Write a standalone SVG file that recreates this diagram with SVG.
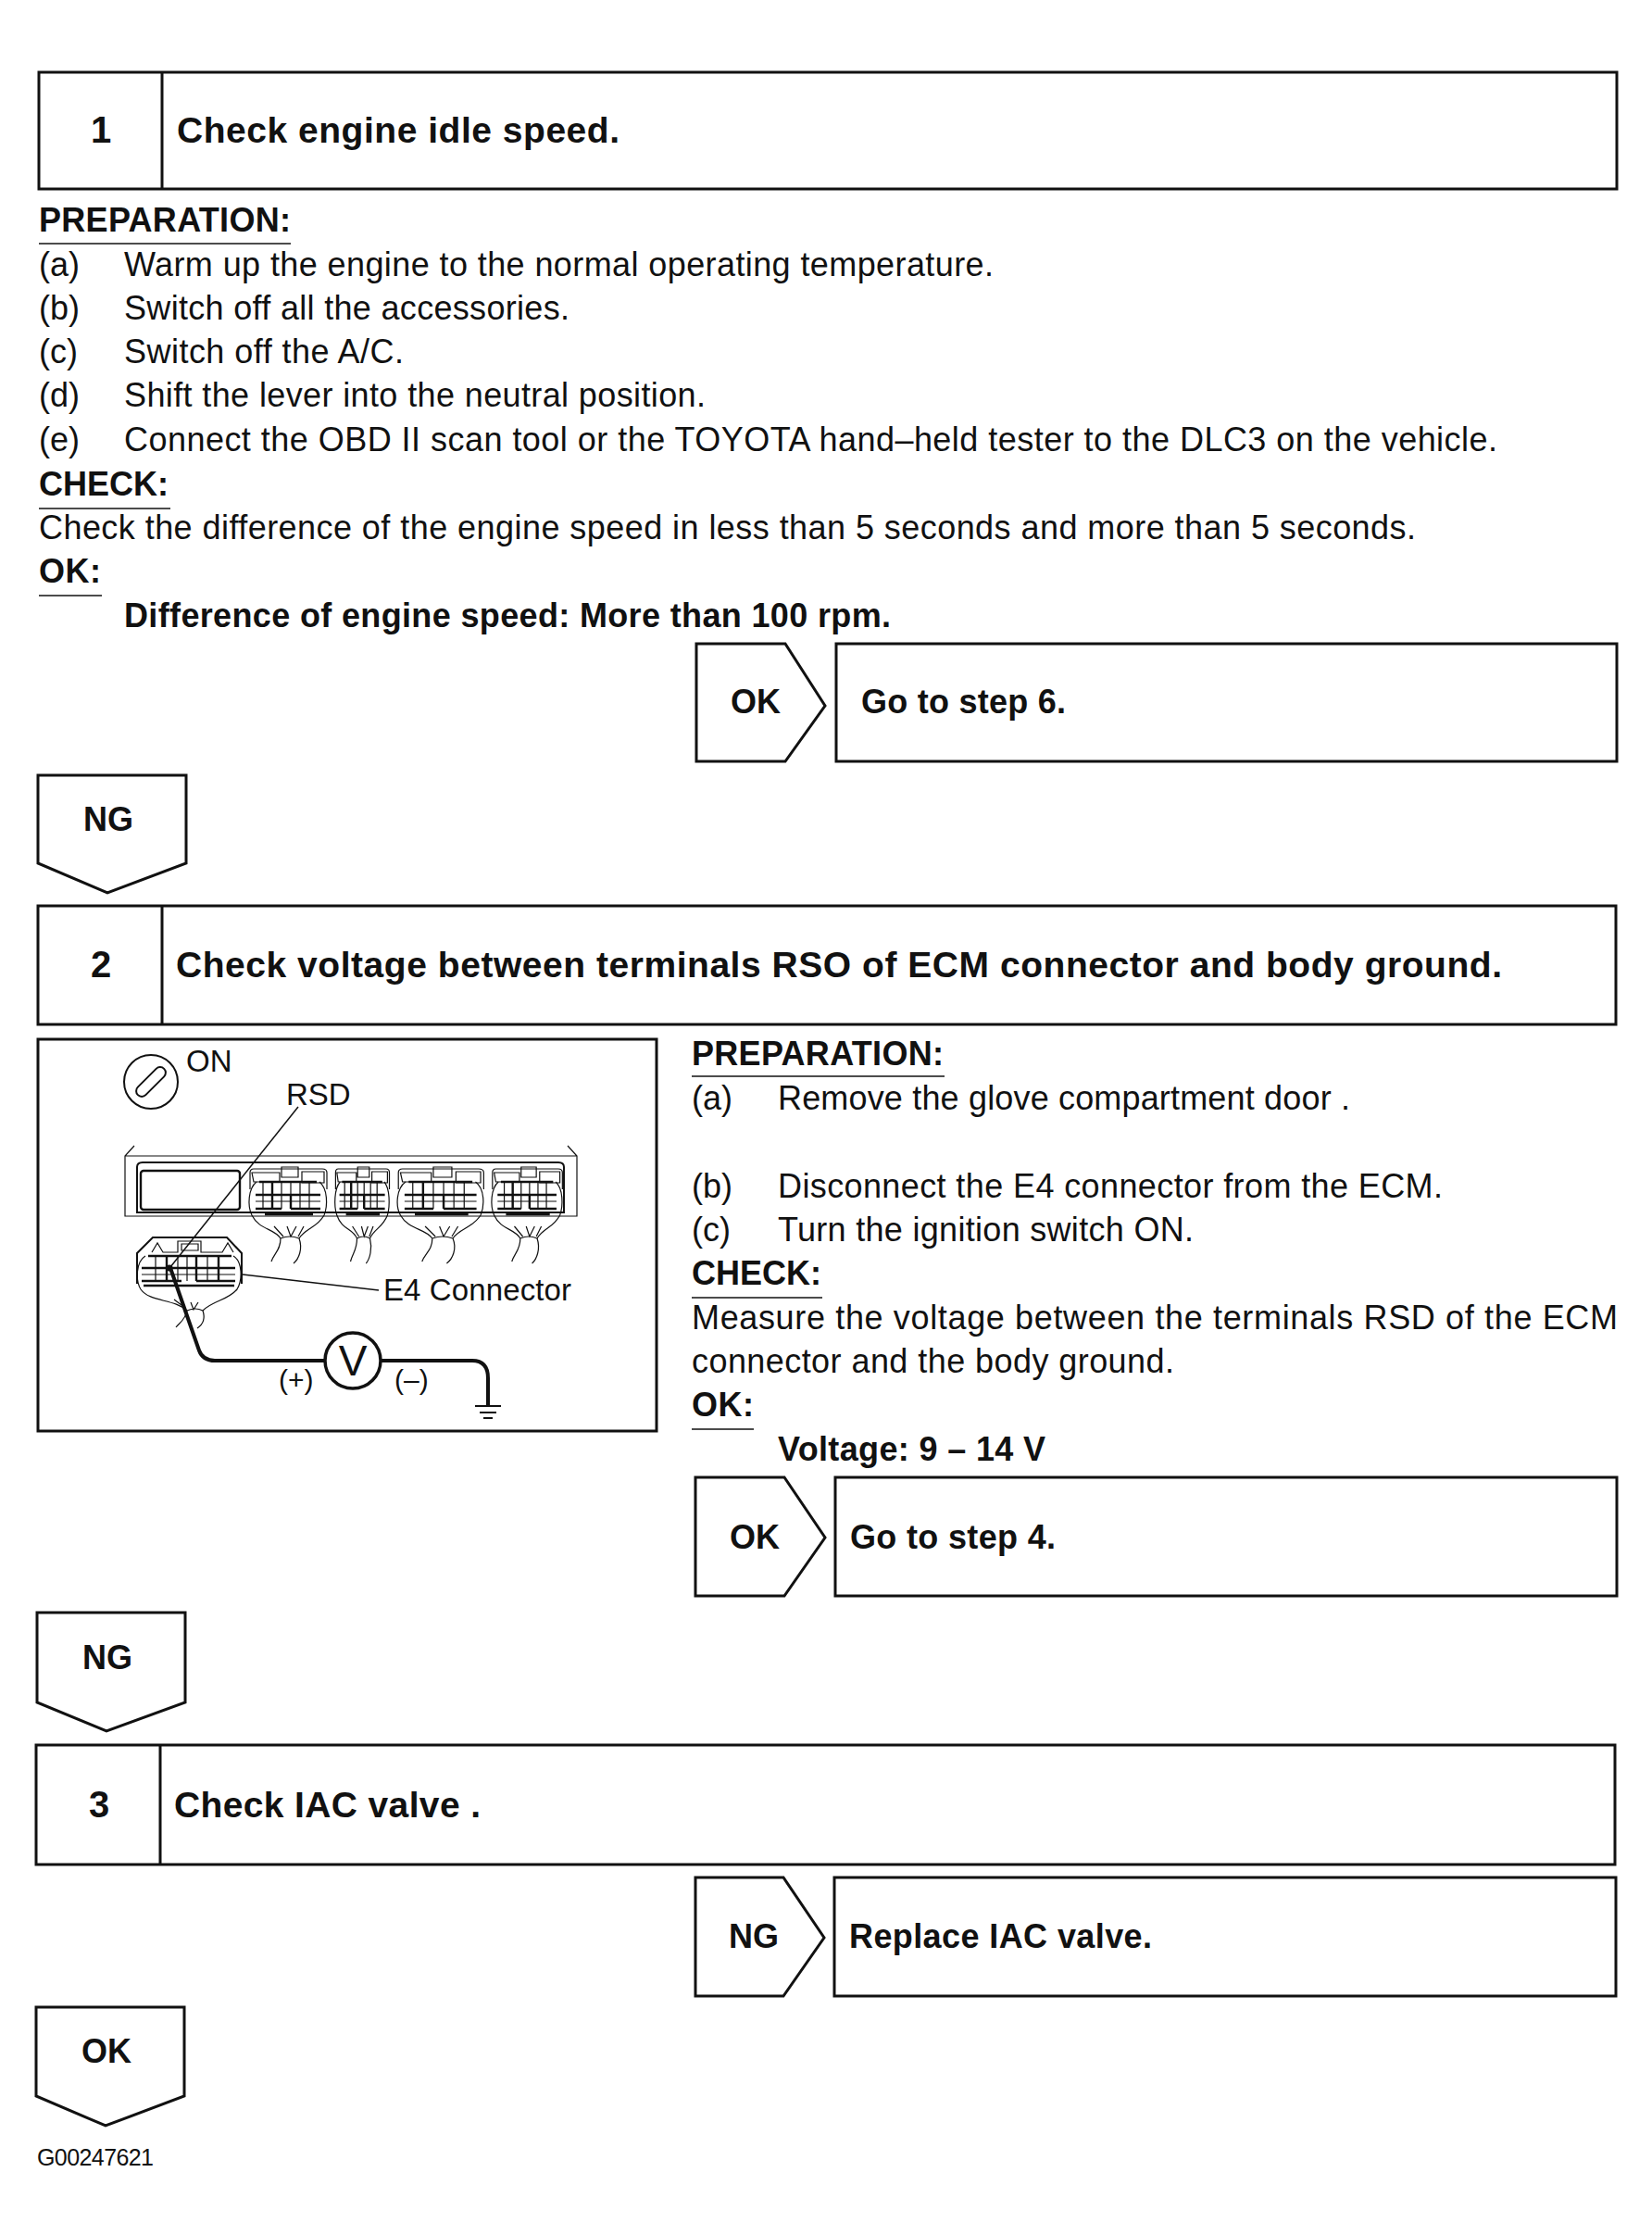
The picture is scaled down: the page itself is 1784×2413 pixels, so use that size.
<svg xmlns="http://www.w3.org/2000/svg" xmlns:xlink="http://www.w3.org/1999/xlink" width="1784" height="2413" viewBox="0 0 1784 2413">
<style>
text{font-family:"Liberation Sans",Arial,sans-serif;fill:#111}
.t{font-size:36px}
.b{font-size:36px;font-weight:bold}
.h{font-size:39px;font-weight:bold}
.m{font-size:36px;font-weight:bold;text-anchor:middle}
.n{font-size:40px;font-weight:bold;text-anchor:middle}
.i{font-size:33px}
.box{fill:#fff;stroke:#111;stroke-width:3}
.u{stroke:#111;stroke-width:1.6;fill:none}
.d{fill:none;stroke:#111;stroke-width:1.2;vector-effect:non-scaling-stroke}
.dh{fill:none;stroke:#111;stroke-width:2.4;vector-effect:non-scaling-stroke}
.lead{fill:none;stroke:#111;stroke-width:1.5}
.probe{fill:none;stroke:#111;stroke-width:4;stroke-linejoin:round}
</style>
<defs>
<g id="conn">
<path class="d" d="M2,22V4Q2,0 6,0H80Q85,0 85,4V22"/>
<path class="d" d="M4,4H34V14H6ZM36,-2H54V9H36ZM58,3H82V15H58Z"/>
<path class="d" d="M9,14C0,21 -1,40 4,50C12,66 28,64 35,75M77,14C86,21 86,40 82,50C74,64 62,64 55,75"/>
<path class="d" d="M35,75Q45,71 55,75M35,75C35,88 28,91 25,100M55,75C59,86 55,97 49,102M28,62L38,73M42,62L46,73L52,62M60,62L54,73"/>
<path class="dh" d="M12,14H74M8,28H78M8,43H36M46,43H78M18,49H70"/>
<path class="d" d="M8,35H78M16,14V43M26,14V43M36,14V43M46,14V43M56,14V43M66,14V43"/>
<path class="dh" d="M26,14V43M46,28V43"/>
</g>
</defs>

<g id="step1">
<rect class="box" x="42" y="78" width="1704" height="126"/>
<line class="box" x1="175" y1="78" x2="175" y2="204"/>
<text class="n" x="109" y="154">1</text>
<text class="h" x="191" y="154" textLength="478">Check engine idle speed.</text>
</g>
<g id="step1-notes">
<text class="b" x="42" y="250" textLength="272">PREPARATION:</text>
<line class="u" x1="42" y1="263" x2="314" y2="263"/>
<text class="t" x="42" y="298">(a)</text><text class="t" x="134" y="298" textLength="939">Warm up the engine to the normal operating temperature.</text>
<text class="t" x="42" y="345">(b)</text><text class="t" x="134" y="345" textLength="481">Switch off all the accessories.</text>
<text class="t" x="42" y="392">(c)</text><text class="t" x="134" y="392" textLength="302">Switch off the A/C.</text>
<text class="t" x="42" y="439">(d)</text><text class="t" x="134" y="439" textLength="628">Shift the lever into the neutral position.</text>
<text class="t" x="42" y="487">(e)</text><text class="t" x="134" y="487" textLength="1483">Connect the OBD II scan tool or the TOYOTA hand–held tester to the DLC3 on the vehicle.</text>
<text class="b" x="42" y="535" textLength="140">CHECK:</text>
<line class="u" x1="42" y1="549" x2="184" y2="549"/>
<text class="t" x="42" y="582" textLength="1487">Check the difference of the engine speed in less than 5 seconds and more than 5 seconds.</text>
<text class="b" x="42" y="629" textLength="67">OK:</text>
<line class="u" x1="42" y1="643" x2="110" y2="643"/>
<text class="b" x="134" y="677" textLength="828">Difference of engine speed: More than 100 rpm.</text>
</g>
<g id="ok1">
<path class="box" d="M752,695H848L891,762L848,822H752Z"/>
<text class="m" x="816" y="770">OK</text>
</g>
<g id="goto6">
<rect class="box" x="903" y="695" width="843" height="127"/>
<text class="b" x="930" y="770" textLength="221">Go to step 6.</text>
</g>
<g id="ng1">
<path class="box" d="M41,837H201V932L116,964L41,932Z"/>
<text class="m" x="117" y="897">NG</text>
</g>

<g id="step2">
<rect class="box" x="41" y="978" width="1704" height="128"/>
<line class="box" x1="175" y1="978" x2="175" y2="1106"/>
<text class="n" x="109" y="1055">2</text>
<text class="h" x="190" y="1055" textLength="1432">Check voltage between terminals RSO of ECM connector and body ground.</text>
</g>

<g id="illustration">
<rect class="box" x="41" y="1122" width="668" height="423"/>
<g id="key">
<circle class="d" cx="163" cy="1168" r="29" style="stroke-width:2"/>
<rect class="d" x="143" y="1162" width="40" height="12" rx="6" transform="rotate(-45 163 1168)" style="stroke-width:2"/>
<text class="i" x="201" y="1157">ON</text>
</g>
<g id="ecm">
<path class="d" d="M145,1237L135,1248V1313H623V1248L613,1237M135,1248H623"/>
<path class="d" d="M148,1309V1260Q148,1255 154,1255H603Q609,1255 609,1260V1309Z" style="stroke-width:2"/>
<rect class="dh" x="152" y="1264" width="107" height="42" rx="3"/>
<use xlink:href="#conn" href="#conn" transform="translate(268 1262)"/>
<use xlink:href="#conn" href="#conn" transform="translate(361 1262) scale(.7 1)"/>
<use xlink:href="#conn" href="#conn" transform="translate(428 1262) scale(1.11 1)"/>
<use xlink:href="#conn" href="#conn" transform="translate(530 1262) scale(.91 1)"/>
</g>
<g id="e4">
<path class="d" d="M148,1386V1353L165,1336H245L261,1353V1386" style="stroke-width:2"/>
<path class="d" d="M164,1352L170,1342L176,1352H192V1340H217V1352H240L246,1342L252,1352M196,1343H214V1350H196Z"/>
<path class="d" d="M157,1356C147,1362 146,1382 152,1392C162,1406 188,1402 202,1415M252,1356C262,1362 262,1382 256,1392C246,1404 230,1404 219,1415"/>
<path class="d" d="M202,1415Q211,1411 219,1415M202,1415C200,1425 194,1428 190,1433M219,1415C222,1424 219,1430 213,1434M188,1403L200,1412M206,1406L209,1414L214,1406"/>
<path class="dh" d="M160,1356H250M153,1369H254M153,1383H196M212,1383H254M155,1388H253"/>
<path class="d" d="M153,1376H254M168,1356V1383M180,1356V1383M192,1356V1383M202,1356V1383M212,1356V1383M224,1356V1383M236,1356V1383"/>
<path class="dh" d="M180,1356V1383M212,1356V1383M236,1356V1383"/>
<circle cx="183" cy="1369" r="3.5" fill="#111"/>
</g>
<text class="i" x="309" y="1193">RSD</text>
<text class="i" x="414" y="1404" textLength="203">E4 Connector</text>
<g id="meter">
<circle cx="381" cy="1469" r="30" fill="#fff" stroke="#111" stroke-width="3.5"/>
<text x="381" y="1485" text-anchor="middle" style="font-size:46px">V</text>
<text class="i" x="301" y="1500" style="font-size:30px">(+)</text>
<text class="i" x="426" y="1500" style="font-size:30px">(–)</text>
</g>
<g id="ground">
<path class="u" d="M513,1518H541" style="stroke-width:2"/>
<path class="u" d="M518,1525H536" style="stroke-width:2"/>
<path class="u" d="M522,1531H532" style="stroke-width:2"/>
</g>
</g>

<g id="connectors">
<path class="lead" d="M322,1195L184,1368"/>
<path class="lead" d="M262,1376L409,1393"/>
<path class="probe" d="M184,1369L215,1458Q219,1469 232,1469H351"/>
<path class="probe" d="M411,1469H510Q527,1469 527,1488V1518"/>
</g>

<g id="step2-notes">
<text class="b" x="747" y="1150" textLength="272">PREPARATION:</text>
<line class="u" x1="747" y1="1162" x2="1020" y2="1162"/>
<text class="t" x="747" y="1198">(a)</text><text class="t" x="840" y="1198" textLength="618">Remove the glove compartment door .</text>
<text class="t" x="747" y="1293">(b)</text><text class="t" x="840" y="1293" textLength="718">Disconnect the E4 connector from the ECM.</text>
<text class="t" x="747" y="1340">(c)</text><text class="t" x="840" y="1340" textLength="449">Turn the ignition switch ON.</text>
<text class="b" x="747" y="1387" textLength="140">CHECK:</text>
<line class="u" x1="747" y1="1401" x2="888" y2="1401"/>
<text class="t" x="747" y="1435" textLength="1000">Measure the voltage between the terminals RSD of the ECM</text>
<text class="t" x="747" y="1482" textLength="521">connector and the body ground.</text>
<text class="b" x="747" y="1529" textLength="67">OK:</text>
<line class="u" x1="747" y1="1543" x2="814" y2="1543"/>
<text class="b" x="840" y="1577" textLength="289">Voltage: 9 – 14 V</text>
</g>
<g id="ok2">
<path class="box" d="M751,1595H847L891,1660L847,1723H751Z"/>
<text class="m" x="815" y="1672">OK</text>
</g>
<g id="goto4">
<rect class="box" x="902" y="1595" width="844" height="128"/>
<text class="b" x="918" y="1672" textLength="222">Go to step 4.</text>
</g>
<g id="ng2">
<path class="box" d="M40,1741H200V1838L115,1869L40,1838Z"/>
<text class="m" x="116" y="1802">NG</text>
</g>

<g id="step3">
<rect class="box" x="39" y="1884" width="1705" height="129"/>
<line class="box" x1="173" y1="1884" x2="173" y2="2013"/>
<text class="n" x="107" y="1962">3</text>
<text class="h" x="188" y="1962" textLength="331">Check IAC valve .</text>
</g>
<g id="ng3">
<path class="box" d="M751,2027H846L890,2092L846,2155H751Z"/>
<text class="m" x="814" y="2103">NG</text>
</g>
<g id="replace">
<rect class="box" x="901" y="2027" width="844" height="128"/>
<text class="b" x="917" y="2103" textLength="327">Replace IAC valve.</text>
</g>
<g id="ok3">
<path class="box" d="M39,2167H199V2263L114,2295L39,2263Z"/>
<text class="m" x="115" y="2227">OK</text>
</g>
<text id="figure-number" x="40" y="2338" style="font-size:25px" textLength="126">G00247621</text>
</svg>
